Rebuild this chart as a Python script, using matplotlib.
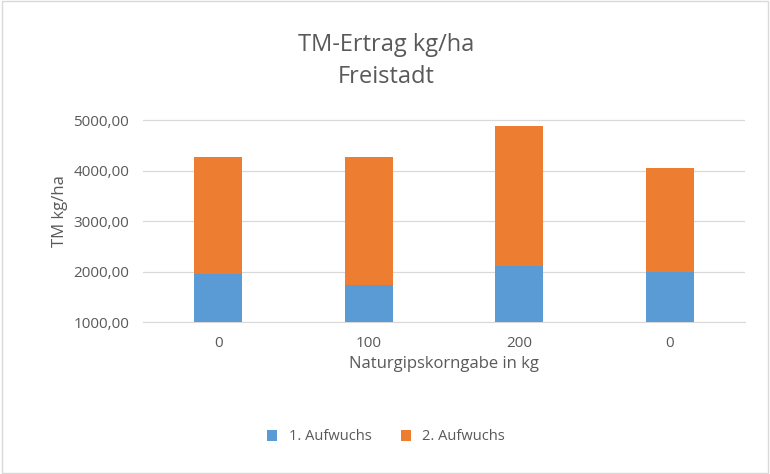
import matplotlib
matplotlib.use("Agg")
import matplotlib.pyplot as plt
from matplotlib.patches import Rectangle

plt.rcParams["font.family"] = "Open Sans"

categories = ["0", "100", "200", "0"]
aufwuchs1 = [1950, 1730, 2110, 1990]
totals = [4265, 4265, 4880, 4055]
aufwuchs2 = [t - a for t, a in zip(totals, aufwuchs1)]
yticks = [1000, 2000, 3000, 4000, 5000]

fig = plt.figure(figsize=(7.70, 4.74), dpi=100)
ax = fig.add_axes([143/770, 1-322/474, (745-143)/770, (322-100)/474])
x = range(len(categories))
ax.bar(x, aufwuchs1, width=0.32, color="#5B9BD5", label="1. Aufwuchs", zorder=3)
ax.bar(x, aufwuchs2, width=0.32, bottom=aufwuchs1, color="#ED7D31", label="2. Aufwuchs", zorder=3)
ax.set_xlim(-0.5, 3.5)
ax.set_ylim(1000, 5400)
ax.set_yticks(yticks)
ax.set_yticklabels([f"{v:.2f}".replace(".", ",") for v in yticks], color="#595959", fontsize=11)
ax.set_xticks(list(x))
ax.set_xticklabels(categories, color="#595959", fontsize=11)
ax.tick_params(length=0, pad=10)
ax.grid(axis="y", color="#D9D9D9", lw=0.9, zorder=0)
for s in ["top", "right", "left"]:
    ax.spines[s].set_visible(False)
ax.spines["bottom"].set_color("#D9D9D9")
ax.set_xlabel("Naturgipskorngabe in kg", color="#595959", fontsize=12)
ax.set_ylabel("TM kg/ha", color="#595959", fontsize=12)
fig.text(386/770, 1-45/474, "TM-Ertrag kg/ha", ha="center", va="center", fontsize=17, color="#595959")
fig.text(386/770, 1-77/474, "Freistadt", ha="center", va="center", fontsize=17, color="#595959")
fig.legend(loc="center", bbox_to_anchor=(386/770, 1-437/474), ncol=2, frameon=False,
           fontsize=10.5, labelcolor="#595959", handlelength=0.7, handleheight=0.7, columnspacing=2)
fig.patches.append(Rectangle((0.002, 0.002), 0.996, 0.996, transform=fig.transFigure,
                             fill=False, edgecolor="#D9D9D9", lw=1))
fig.savefig("out.png", dpi=100)
